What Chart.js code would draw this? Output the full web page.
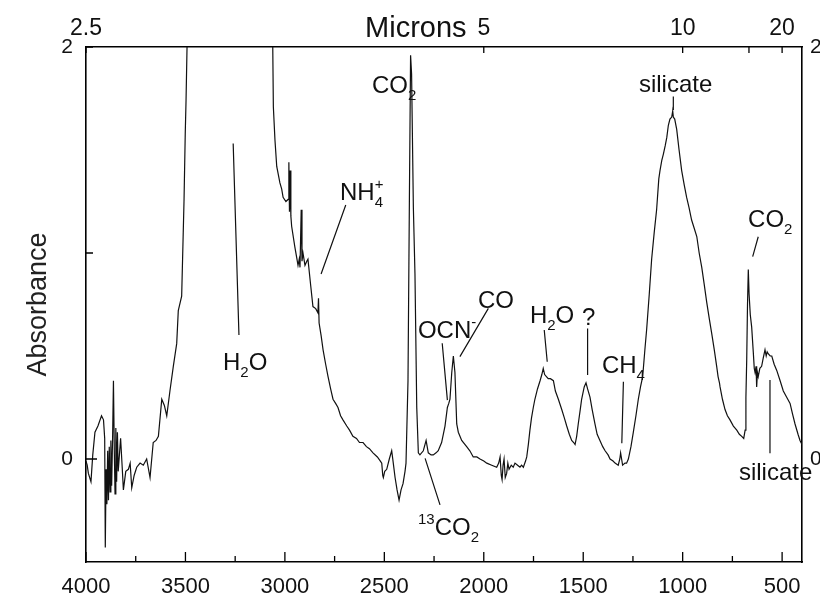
<!DOCTYPE html>
<html>
<head>
<meta charset="utf-8">
<script src="https://cdn.jsdelivr.net/npm/chart.js@4"></script>
<style>
  html, body { margin: 0; padding: 0; background: #fff; }
  canvas { display: block; }
</style>
</head>
<body>
<canvas id="spectrum" width="820" height="597"></canvas>
<script>
// spectrum: wavenumber (cm-1) and absorbance
const WAVENUMBER = [
  4000, 3994, 3988, 3975, 3966, 3955, 3940, 3922, 3912, 3906, 3903, 3899, 3895, 3891, 3887, 3883,
  3879, 3875, 3871, 3866, 3862, 3858, 3854, 3850, 3846, 3842, 3838, 3832, 3826, 3818, 3812, 3800,
  3787, 3778, 3770, 3758, 3745, 3728, 3712, 3695, 3678, 3662, 3648, 3636, 3619, 3606, 3594, 3578,
  3561, 3544, 3536, 3519, 3507, 3501, 3497, 3492, 3486, 3070, 3061, 3058, 3050, 3041, 3025, 3016,
  3009, 2995, 2984, 2980, 2977, 2974, 2970, 2966, 2950, 2941, 2934, 2928, 2924, 2918, 2914, 2909,
  2899, 2890, 2884, 2870, 2859, 2845, 2834, 2831, 2828, 2818, 2808, 2795, 2783, 2770, 2758, 2745,
  2733, 2720, 2708, 2689, 2675, 2658, 2640, 2625, 2607, 2590, 2575, 2557, 2535, 2520, 2513, 2508,
  2505, 2498, 2488, 2475, 2463, 2455, 2446, 2436, 2426, 2416, 2406, 2396, 2391, 2381, 2374, 2368,
  2363, 2354, 2346, 2337, 2329, 2321, 2304, 2290, 2279, 2265, 2254, 2240, 2229, 2212, 2195, 2183,
  2176, 2170, 2161, 2153, 2145, 2136, 2128, 2111, 2086, 2070, 2053, 2035, 2019, 2000, 1985, 1960,
  1935, 1925, 1918, 1912, 1908, 1903, 1898, 1892, 1885, 1879, 1873, 1862, 1852, 1843, 1830, 1818,
  1810, 1801, 1790, 1784, 1776, 1768, 1760, 1751, 1743, 1730, 1717, 1708, 1701, 1694, 1685, 1676,
  1665, 1650, 1640, 1625, 1608, 1595, 1583, 1570, 1558, 1548, 1541, 1533, 1525, 1515, 1508, 1495,
  1486, 1478, 1466, 1455, 1441, 1430, 1416, 1402, 1390, 1375, 1365, 1350, 1340, 1324, 1316, 1312,
  1307, 1302, 1290, 1282, 1273, 1260, 1248, 1235, 1223, 1212, 1201, 1190, 1181, 1168, 1156, 1143,
  1131, 1120, 1114, 1105, 1097, 1088, 1080, 1072, 1064, 1055, 1050, 1047, 1040, 1030, 1018, 1005,
  992, 980, 968, 955, 942, 929, 917, 904, 892, 879, 866, 854, 841, 829, 822, 815,
  812, 800, 787, 775, 762, 745, 728, 715, 703, 693, 686, 682, 678, 674, 670, 666,
  660, 653, 645, 640, 636, 631, 628, 624, 620, 612, 603, 595, 586, 580, 575, 569,
  560, 552, 540, 527, 510, 494, 477, 460, 448, 435, 420, 410, 400
];
const ABSORBANCE = [
  -0.01, -0.03, -0.07, -0.11, 0.02, 0.13, 0.16, 0.21, 0.19, 0.10, -0.43, -0.05, -0.22, 0.04, -0.20, 0.06,
  -0.16, 0.09, -0.13, 0.12, 0.38, 0.06, -0.17, 0.15, -0.11, 0.13, -0.06, 0.02, 0.10, -0.04, -0.15, -0.06,
  -0.05, -0.02, -0.14, -0.08, -0.04, -0.02, -0.03, 0.00, -0.09, 0.08, 0.09, 0.11, 0.29, 0.26, 0.21, 0.33,
  0.45, 0.56, 0.72, 0.79, 1.26, 1.58, 1.74, 2.00, 2.40, 2.40, 2.00, 1.71, 1.55, 1.42, 1.34, 1.31,
  1.27, 1.25, 1.26, 1.44, 1.20, 1.40, 1.18, 1.13, 1.03, 0.98, 0.94, 0.97, 0.93, 1.21, 0.96, 1.00,
  0.94, 0.96, 0.97, 0.84, 0.74, 0.73, 0.71, 0.78, 0.66, 0.60, 0.53, 0.46, 0.40, 0.34, 0.29, 0.27,
  0.25, 0.21, 0.19, 0.16, 0.14, 0.11, 0.10, 0.08, 0.08, 0.06, 0.05, 0.03, 0.01, -0.01, -0.02, -0.08,
  -0.09, -0.06, -0.05, 0.00, 0.04, -0.02, -0.09, -0.15, -0.20, -0.15, -0.12, -0.06, -0.02, 0.38, 1.26, 1.96,
  1.87, 1.22, 0.90, 0.25, 0.03, 0.02, 0.04, 0.09, 0.03, 0.02, 0.02, 0.03, 0.04, 0.08, 0.16, 0.25,
  0.27, 0.29, 0.42, 0.50, 0.42, 0.17, 0.13, 0.09, 0.06, 0.04, 0.01, 0.01, 0.00, -0.01, -0.02, -0.03,
  -0.04, -0.02, 0.01, -0.08, -0.10, -0.03, 0.00, -0.09, -0.07, -0.02, -0.05, -0.03, -0.04, -0.02, -0.03, -0.04,
  -0.03, -0.04, -0.01, 0.01, 0.07, 0.14, 0.20, 0.25, 0.29, 0.34, 0.38, 0.41, 0.44, 0.41, 0.40, 0.39,
  0.39, 0.38, 0.33, 0.29, 0.24, 0.20, 0.16, 0.12, 0.09, 0.08, 0.07, 0.11, 0.17, 0.24, 0.29, 0.35,
  0.37, 0.34, 0.30, 0.24, 0.17, 0.12, 0.09, 0.06, 0.04, 0.02, 0.00, -0.01, -0.02, -0.03, 0.00, 0.03,
  0.00, -0.03, -0.02, -0.02, 0.00, 0.06, 0.13, 0.21, 0.29, 0.35, 0.40, 0.53, 0.63, 0.80, 0.97, 1.10,
  1.21, 1.36, 1.40, 1.45, 1.48, 1.52, 1.56, 1.62, 1.65, 1.66, 1.69, 1.66, 1.65, 1.60, 1.50, 1.40,
  1.33, 1.27, 1.22, 1.16, 1.12, 1.08, 1.00, 0.93, 0.85, 0.76, 0.68, 0.61, 0.53, 0.45, 0.40, 0.37,
  0.35, 0.29, 0.24, 0.21, 0.19, 0.16, 0.14, 0.12, 0.11, 0.10, 0.14, 0.30, 0.48, 0.75, 0.92, 0.80,
  0.70, 0.64, 0.52, 0.44, 0.42, 0.45, 0.35, 0.42, 0.40, 0.44, 0.45, 0.49, 0.53, 0.50, 0.52, 0.51,
  0.50, 0.50, 0.46, 0.43, 0.38, 0.33, 0.30, 0.27, 0.22, 0.17, 0.12, 0.09, 0.07
];

// axis ticks
const WN_TICKS = [4000, 3750, 3500, 3250, 3000, 2750, 2500, 2250, 2000, 1750, 1500, 1250, 1000, 750, 500];
const MICRON_TICKS = [2.5, 5, 10, 15, 20];
const MICRON_LABELS = ['2.5', '5', '10', '', '20'];
const ABS_TICKS = [0, 1, 2];
const ABS_LABELS = ['0', '', '2'];
const ABS_RIGHT_TICKS = [0, 2];
const ABS_RIGHT_LABELS = ['0', '2'];

// band labels: text parts and anchor (wavenumber, absorbance) of the left baseline
const LABELS = [
  { parts: [['CO'], ['2', 'sub']], at: [2562, 1.777] },
  { parts: [['NH'], ['4', 'sub'], ['+', 'stack']], at: [2723, 1.257] },
  { parts: [['H'], ['2', 'sub'], ['O']], at: [3311, 0.43] },
  { parts: [['OCN'], ['-', 'sup']], at: [2331, 0.587] },
  { parts: [['CO']], at: [2029, 0.733] },
  { parts: [['H'], ['2', 'sub'], ['O']], at: [1768, 0.66] },
  { parts: [['?']], at: [1506, 0.65] },
  { parts: [['CH'], ['4', 'sub']], at: [1406, 0.417] },
  { parts: [['silicate']], at: [1220, 1.782] },
  { parts: [['CO'], ['2', 'sub']], at: [671, 1.126] },
  { parts: [['silicate']], at: [717, -0.102] },
  { parts: [['13', 'sup'], ['CO'], ['2', 'sub']], at: [2331, -0.369] }
];
const LEADERS = [
  [[2694, 1.233], [2818, 0.898]],
  [[3260, 1.532], [3231, 0.602]],
  [[2209, 0.562], [2183, 0.286]],
  [[1977, 0.731], [2120, 0.497]],
  [[1696, 0.626], [1681, 0.472]],
  [[1478, 0.634], [1478, 0.408]],
  [[1298, 0.375], [1306, 0.076]],
  [[1047, 1.76], [1047, 1.694]],
  [[620, 1.079], [648, 0.982]],
  [[561, 0.383], [561, 0.028]],
  [[2295, 0.003], [2220, -0.223]]
];
const TOP_TITLE = { text: 'Microns', at: [2597, 2.05] };

const FONT = '"Liberation Sans", Arial, Helvetica, sans-serif';
Chart.defaults.font.family = FONT;
Chart.defaults.color = '#111';

function drawRich(ctx, parts, x, y) {
  let cx = x, lastW = 0;
  parts.forEach(([txt, kind]) => {
    if (kind === 'sub') {
      ctx.font = '15px ' + FONT;
      ctx.fillText(txt, cx, y + 7);
    } else if (kind === 'sup' || kind === 'stack') {
      ctx.font = '15px ' + FONT;
      if (kind === 'stack') cx -= lastW;
      ctx.fillText(txt, cx, y - 11);
    } else {
      ctx.font = '24px ' + FONT;
      ctx.fillText(txt, cx, y);
    }
    lastW = ctx.measureText(txt).width;
    cx += lastW;
  });
}

const annotations = {
  id: 'annotations',
  afterDatasetsDraw(chart) {
    const { ctx, scales: { x, y } } = chart;
    ctx.save();
    ctx.strokeStyle = '#111';
    ctx.lineWidth = 1.2;
    ctx.beginPath();
    LEADERS.forEach(([p, q]) => {
      ctx.moveTo(x.getPixelForValue(p[0]), y.getPixelForValue(p[1]));
      ctx.lineTo(x.getPixelForValue(q[0]), y.getPixelForValue(q[1]));
    });
    ctx.stroke();
    ctx.fillStyle = '#111';
    ctx.textBaseline = 'alphabetic';
    ctx.textAlign = 'left';
    LABELS.forEach(l => drawRich(ctx, l.parts, x.getPixelForValue(l.at[0]), y.getPixelForValue(l.at[1])));
    ctx.font = '29px ' + FONT;
    ctx.fillText(TOP_TITLE.text, x.getPixelForValue(TOP_TITLE.at[0]), y.getPixelForValue(TOP_TITLE.at[1]));
    ctx.restore();
  }
};

// tick marks pointing into the plot
const innerTicks = {
  id: 'innerTicks',
  afterDraw(chart) {
    const { ctx, chartArea: a, scales } = chart;
    ctx.save();
    ctx.strokeStyle = '#000';
    ctx.lineWidth = 1.3;
    ctx.beginPath();
    scales.x.ticks.forEach(t => {
      const px = scales.x.getPixelForValue(t.value);
      const len = t.value % 500 === 0 ? 10 : 6;
      ctx.moveTo(px, a.bottom); ctx.lineTo(px, a.bottom - len);
    });
    scales.xTop.ticks.forEach(t => {
      const px = scales.xTop.getPixelForValue(t.value);
      ctx.moveTo(px, a.top); ctx.lineTo(px, a.top + 6);
    });
    scales.y.ticks.forEach(t => {
      const py = scales.y.getPixelForValue(t.value);
      const len = t.value === 0 ? 11 : 7;
      ctx.moveTo(a.left, py); ctx.lineTo(a.left + len, py);
    });
    ctx.stroke();
    ctx.restore();
  }
};

const frame = { display: true, color: '#000', width: 1.6 };
const noGrid = { display: false, drawTicks: false };

new Chart(document.getElementById('spectrum'), {
  type: 'line',
  data: {
    datasets: [{
      data: WAVENUMBER.map((w, i) => ({ x: w, y: ABSORBANCE[i] })),
      borderColor: '#111',
      borderWidth: 1.2,
      pointRadius: 0,
      tension: 0,
      fill: false
    }]
  },
  options: {
    responsive: false,
    animation: false,
    layout: { padding: 0 },
    plugins: { legend: { display: false }, tooltip: { enabled: false } },
    scales: {
      x: {
        type: 'linear', position: 'bottom', reverse: true, min: 400, max: 4000,
        afterBuildTicks: s => { s.ticks = WN_TICKS.map(v => ({ value: v })); },
        afterFit: s => { s.height = 35; },
        grid: noGrid, border: frame,
        ticks: {
          font: { size: 22 }, padding: 12, autoSkip: false, maxRotation: 0,
          callback: v => (v % 500 === 0 ? String(v) : '')
        }
      },
      xTop: {
        type: 'linear', position: 'top', reverse: true, min: 400, max: 4000,
        afterBuildTicks: s => { s.ticks = MICRON_TICKS.map(m => ({ value: 10000 / m })); },
        afterFit: s => { s.height = 47; },
        grid: noGrid, border: frame,
        ticks: {
          font: { size: 23 }, padding: 5, autoSkip: false, maxRotation: 0,
          callback: (v, i) => MICRON_LABELS[i]
        }
      },
      y: {
        type: 'linear', position: 'left', min: -0.5, max: 2,
        afterBuildTicks: s => { s.ticks = ABS_TICKS.map(v => ({ value: v })); },
        afterFit: s => { s.width = 86; },
        grid: noGrid, border: frame,
        title: { display: true, text: 'Absorbance', font: { size: 27 }, color: '#222', padding: { top: 22, bottom: 0 } },
        ticks: { font: { size: 21 }, padding: 13, callback: (v, i) => ABS_LABELS[i] }
      },
      yRight: {
        type: 'linear', position: 'right', min: -0.5, max: 2,
        afterBuildTicks: s => { s.ticks = ABS_RIGHT_TICKS.map(v => ({ value: v })); },
        afterFit: s => { s.width = 18; },
        grid: noGrid, border: frame,
        ticks: { font: { size: 21 }, padding: 8, callback: (v, i) => ABS_RIGHT_LABELS[i] }
      }
    }
  },
  plugins: [annotations, innerTicks]
});
</script>
</body>
</html>
